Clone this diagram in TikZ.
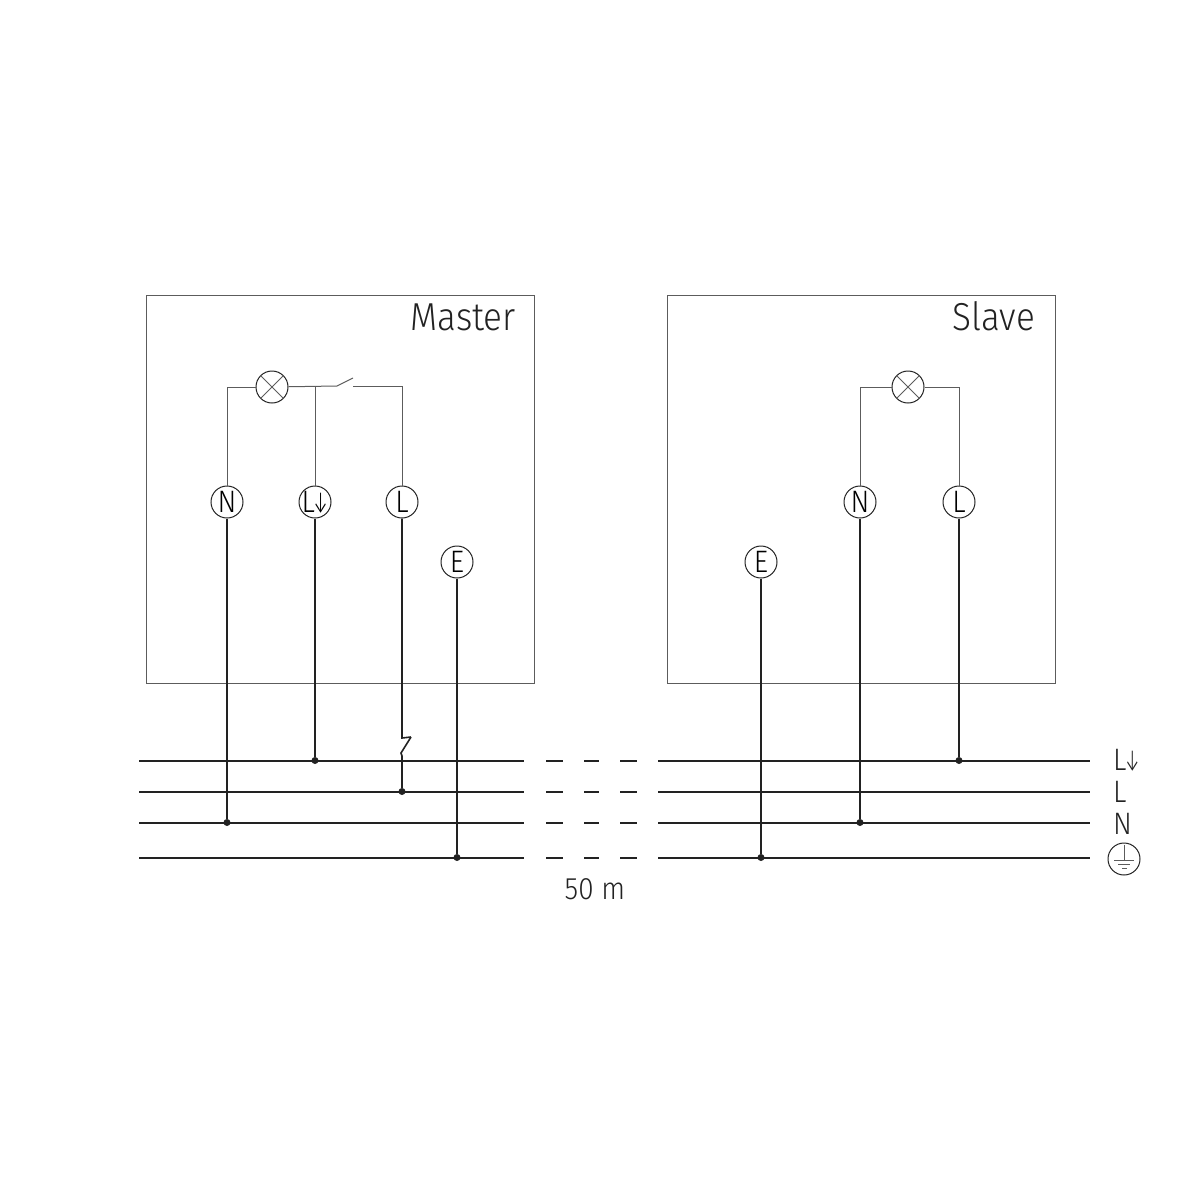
\documentclass[tikz,border=0pt]{standalone}
\usepackage{fontspec}
\setmainfont[FakeStretch=0.9]{Fira Sans Light}
\usetikzlibrary{positioning}
\definecolor{ink}{HTML}{222222}
\definecolor{thinink}{HTML}{5C5C5C}
\newcommand{\termtext}[1]{\makebox[0pt]{#1}}
\newcommand{\larrow}{L\kern-2pt\smash{\scalebox{0.62}[1]{↓}}}
\tikzset{
  box/.style={draw=thinink, line width=1pt},
  wire/.style={draw=thinink, line width=1pt},
  feed/.style={draw=ink, line width=2pt},
  rail/.style={draw=ink, line width=2pt},
  term/.style={circle, draw=ink, line width=1pt, minimum size=32pt, inner sep=0pt, font=\fontsize{31}{31}\selectfont},
  lamp/.style={circle, draw=ink, line width=1pt, minimum size=32pt, inner sep=0pt},
  dot/.style={circle, fill=ink, minimum size=7pt, inner sep=0pt},
  title/.style={font=\fontsize{39}{39}\selectfont, text=ink, inner sep=0pt},
  rlabel/.style={anchor=west, font=\fontsize{31}{31}\selectfont, text=ink, inner sep=0pt}
}
\begin{document}
\begin{tikzpicture}[x=1pt, y=-1pt, node distance=88pt, on grid]
  \useasboundingbox (0,0) rectangle (1200,1200);
  % boxes
  \node[box, minimum size=388pt, inner sep=0pt] (master) at (340,489) {};
  \node[box, minimum size=388pt, inner sep=0pt] (slave) at (861,489) {};
  \node[title, anchor=base east] (mastertitle) at (516,330) {Master};
  \node[title, anchor=base east] (slavetitle) at (1035,330) {Slave};
  % terminals
  \node[term] (mN) at (227,502) {\termtext{N}};
  \node[term] (mLd) [right=of mN] {\termtext{\larrow}};
  \node[term] (mL) [right=87pt of mLd] {\termtext{L}};
  \node[term] (mE) at (457,562) {\termtext{E}};
  \node[term] (sE) at (761,562) {\termtext{E}};
  \node[term] (sN) at (860,502) {\termtext{N}};
  \node[term] (sL) [right=99pt of sN] {\termtext{L}};
  % lamps and the switch
  \node[lamp] (mlamp) at (272,387) {};
  \node[lamp] (slamp) at (908,387) {};
  \draw[wire] (mlamp.45) -- (mlamp.225) (mlamp.135) -- (mlamp.315);
  \draw[wire] (slamp.45) -- (slamp.225) (slamp.135) -- (slamp.315);
  \coordinate (mjoin) at (mLd |- mlamp);
  \coordinate (swa) at (337,386);
  \coordinate (swb) at (353,378);
  \coordinate (swc) at (353,386);
  \coordinate (mcorner) at (mL |- swc);
  \draw[wire] (mN) |- (mlamp);
  \draw[wire] (mlamp) -- (swa) -- (swb);
  \draw[wire] (mLd) -- (mjoin);
  \draw[wire] (mL) -- (mcorner) -- (swc);
  \draw[wire] (sN) |- (slamp);
  \draw[wire] (sL) |- (slamp);
  % rails
  \foreach \name/\y in {a/760.5, b/791.5, c/822.5, d/857.5} {
    \coordinate (\name1) at (139,\y);
    \coordinate (\name2) at (524,\y);
    \coordinate (\name3) at (658,\y);
    \coordinate (\name4) at (1090,\y);
    \draw[rail] (\name1) -- (\name2) (\name3) -- (\name4);
    \foreach \xa/\xb in {546/563, 584/599, 620/637} {
      \coordinate (\name\xa) at (\xa,\y);
      \coordinate (\name\xb) at (\xb,\y);
      \draw[rail] (\name\xa) -- (\name\xb);
    }
  }
  % junctions
  \node[dot] (dmN) at (mN |- c1) {};
  \node[dot] (dmLd) at (mLd |- a1) {};
  \node[dot] (dmL) at (mL |- b1) {};
  \node[dot] (dmE) at (mE |- d1) {};
  \node[dot] (dsE) at (sE |- d1) {};
  \node[dot] (dsN) at (sN |- c1) {};
  \node[dot] (dsL) at (sL |- a1) {};
  \draw[feed] (mN) -- (dmN);
  \draw[feed] (mLd) -- (dmLd);
  \draw[feed] (mE) -- (dmE);
  \draw[feed] (sE) -- (dsE);
  \draw[feed] (sN) -- (dsN);
  \draw[feed] (sL) -- (dsL);
  % line switch on the feed
  \coordinate (fa) at (402,738);
  \coordinate (fb) at (411,737);
  \coordinate (fc) at (401,753);
  \coordinate (fd) at (402,756);
  \draw[feed, line width=1.6pt] (mL) -- (fa) -- (fb);
  \draw[feed, line width=1.6pt] (fb) -- (fc) -- (fd) -- (dmL);
  % right hand labels
  \node[rlabel] (lLd) at (1113,760) {\larrow};
  \node[rlabel] (lL) at (1113,792) {L};
  \node[rlabel] (lN) at (1113,824) {N};
  \node[title, anchor=base, font=\fontsize{31}{31}\selectfont] (dist) at (595,899) {50 m};
  % earth symbol
  \node[lamp] (earth) at (1124,859) {};
  \coordinate (eb) at (1124,860);
  \draw[wire] (earth.north) ++(0,2) coordinate (et) -- (eb);
  \draw[wire] (1114,860) coordinate (e1) -- (1134,860) coordinate (e2);
  \draw[wire] (1118,864) coordinate (e3) -- (1130,864) coordinate (e4);
  \draw[wire] (1122,868) coordinate (e5) -- (1127,868) coordinate (e6);
\end{tikzpicture}
\end{document}
